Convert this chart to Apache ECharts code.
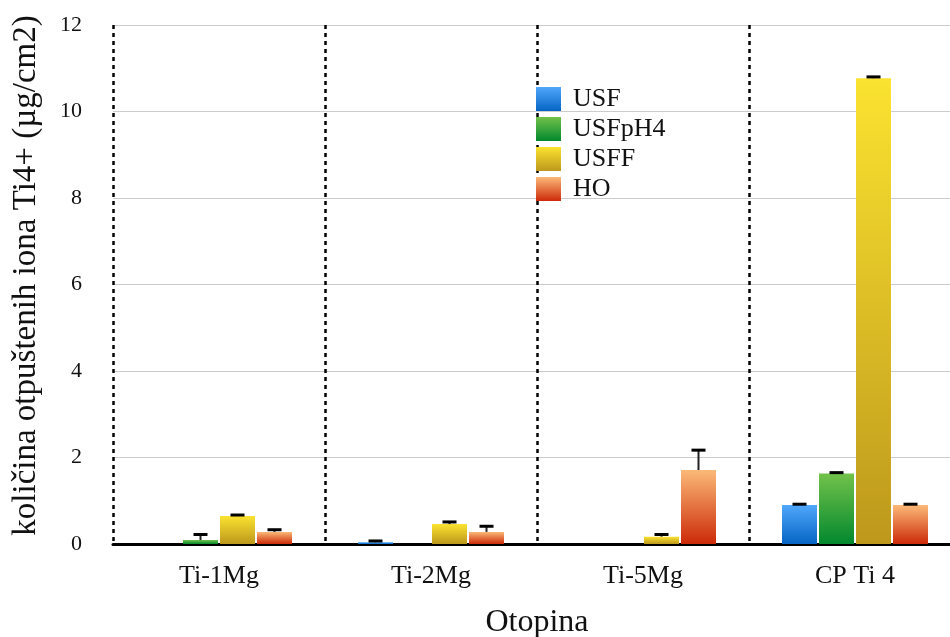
<!DOCTYPE html>
<html><head><meta charset="utf-8">
<script src="https://cdn.jsdelivr.net/npm/echarts@6/dist/echarts.min.js"></script>
<style>html,body{margin:0;padding:0;background:#fff}#c{width:950px;height:637px}</style>
</head><body><div id="c"></div>
<script>
const categories = ['Ti-1Mg', 'Ti-2Mg', 'Ti-5Mg', 'CP Ti 4'];
const seriesNames = ['USF', 'USFpH4', 'USFF', 'HO'];
const usf      = [0.0, 0.04, 0.0, 0.90];
const usfErr   = [0.0, 0.03, 0.0, 0.02];
const usfph4   = [0.09, 0.0, 0.0, 1.63];
const usfph4Err= [0.13, 0.0, 0.0, 0.02];
const usff     = [0.65, 0.46, 0.17, 10.77];
const usffErr  = [0.02, 0.05, 0.05, 0.03];
const ho       = [0.28, 0.28, 1.71, 0.90];
const hoErr    = [0.05, 0.13, 0.46, 0.02];
const yTicks = [0, 2, 4, 6, 8, 10, 12];

const values = [usf, usfph4, usff, ho];
const errors = [usfErr, usfph4Err, usffErr, hoErr];
const gradients = [
  ['#50a8fb', '#0564c4'],
  ['#72c24a', '#02882e'],
  ['#fbe330', '#bd981c'],
  ['#fbb978', '#cc2a08']
];
const FONT = 'Liberation Serif';
const BW = 35, GAP = 2;

const chart = echarts.init(document.getElementById('c'), null, {renderer: 'canvas'});
const series = [];
values.forEach((vals, si) => {
  series.push({
    name: seriesNames[si], type: 'bar', data: vals, barWidth: BW, barGap: (GAP / BW * 100) + '%',
    itemStyle: { color: new echarts.graphic.LinearGradient(0, 0, 0, 1, [
      {offset: 0, color: gradients[si][0]}, {offset: 1, color: gradients[si][1]}]) },
    emphasis: {disabled: true}
  });
});
values.forEach((vals, si) => {
  series.push({
    type: 'custom', name: seriesNames[si] + ' err', z: 5,
    data: vals.map((v, i) => [i, v, v + errors[si][i], errors[si][i]]),
    renderItem: function (params, api) {
      const err = api.value(3);
      if (!(err > 0)) return null;
      const base = api.coord([api.value(0), api.value(1)]);
      const top = api.coord([api.value(0), api.value(2)]);
      const off = (si - 1.5) * (BW + GAP);
      const x = base[0] + off;
      return { type: 'group', children: [
        { type: 'line', shape: {x1: x, y1: base[1], x2: x, y2: top[1]}, style: {stroke: '#222', lineWidth: 2} },
        { type: 'line', shape: {x1: x - 7, y1: top[1], x2: x + 7, y2: top[1]}, style: {stroke: '#000', lineWidth: 3} }
      ]};
    }
  });
});

chart.setOption({
  animation: false,
  backgroundColor: '#fff',
  textStyle: {fontFamily: FONT},
  grid: {left: 113, top: 25, width: 848, height: 519, outerBoundsMode: 'none', containLabel: false},
  legend: {
    data: seriesNames, orient: 'vertical', left: 531, top: 81,
    itemWidth: 25, itemHeight: 24, itemGap: 4, icon: 'rect',
    textStyle: {fontFamily: FONT, fontSize: 26, lineHeight: 24, color: '#111', padding: [0, 0, 0, 7]}
  },
  xAxis: {
    type: 'category', data: categories,
    name: 'Otopina', nameLocation: 'middle', nameGap: 63, nameMoveOverlap: false,
    nameTextStyle: {fontFamily: FONT, fontSize: 32, color: '#111'},
    axisLine: {show: true, onZero: false, lineStyle: {color: '#000', width: 3}},
    axisTick: {show: false},
    axisLabel: {fontFamily: FONT, fontSize: 26, color: '#111', margin: 19},
    splitLine: {show: true, lineStyle: {color: '#000', width: 2.5, type: [4, 4]}}
  },
  yAxis: {
    type: 'value', min: 0, max: 12, interval: 2,
    name: 'količina otpuštenih iona Ti4+ (µg/cm2)', nameLocation: 'middle', nameGap: 70, nameMoveOverlap: false,
    nameTextStyle: {fontFamily: FONT, fontSize: 33, color: '#111', padding: [0, 0, 0, 18]},
    axisLine: {show: false}, axisTick: {show: false},
    axisLabel: {fontFamily: FONT, fontSize: 22, color: '#111', margin: 31,
      formatter: v => yTicks.includes(v) ? String(v) : ''},
    splitLine: {show: true, lineStyle: {color: '#cccccc', width: 1}}
  },
  series: series
});
</script></body></html>
